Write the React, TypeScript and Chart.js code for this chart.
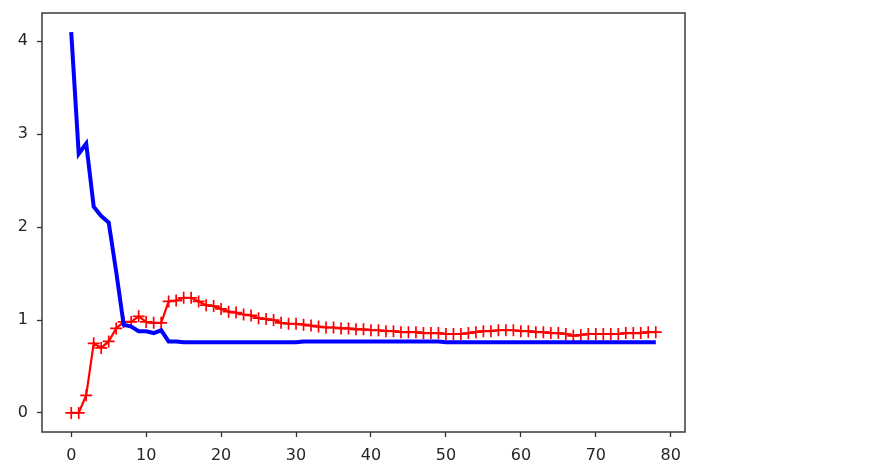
import React, { useEffect, useRef } from "react";
import { Chart, registerables } from "chart.js";

Chart.register(...registerables);

// Training errors (red, "+" markers), one per training-set size 0..78
const trainErrors: number[] = [
  0.0, 0.0, 0.19, 0.75, 0.7, 0.77, 0.91, 0.98, 0.98, 1.04,
  0.98, 0.97, 0.97, 1.2, 1.21, 1.24, 1.24, 1.2, 1.16, 1.15,
  1.12, 1.09, 1.08, 1.06, 1.05, 1.02, 1.01, 1.0, 0.97, 0.96,
  0.96, 0.95, 0.94, 0.93, 0.92, 0.92, 0.91, 0.91, 0.9, 0.9,
  0.89, 0.89, 0.88, 0.88, 0.87, 0.87, 0.87, 0.86, 0.86, 0.86,
  0.85, 0.85, 0.85, 0.86, 0.87, 0.88, 0.88, 0.89, 0.89, 0.89,
  0.88, 0.88, 0.87, 0.87, 0.86, 0.86, 0.85, 0.83, 0.84, 0.85,
  0.85, 0.85, 0.85, 0.85, 0.86, 0.86, 0.86, 0.87, 0.87,
];

// Validation errors (blue line)
const valErrors: number[] = [
  4.1, 2.79, 2.9, 2.22, 2.12, 2.05, 1.52, 0.95, 0.93, 0.88,
  0.88, 0.86, 0.89, 0.77, 0.77, 0.76, 0.76, 0.76, 0.76, 0.76,
  0.76, 0.76, 0.76, 0.76, 0.76, 0.76, 0.76, 0.76, 0.76, 0.76,
  0.76, 0.77, 0.77, 0.77, 0.77, 0.77, 0.77, 0.77, 0.77, 0.77,
  0.77, 0.77, 0.77, 0.77, 0.77, 0.77, 0.77, 0.77, 0.77, 0.77,
  0.76, 0.76, 0.76, 0.76, 0.76, 0.76, 0.76, 0.76, 0.76, 0.76,
  0.76, 0.76, 0.76, 0.76, 0.76, 0.76, 0.76, 0.76, 0.76, 0.76,
  0.76, 0.76, 0.76, 0.76, 0.76, 0.76, 0.76, 0.76, 0.76,
];

const xTicks: number[] = [0, 10, 20, 30, 40, 50, 60, 70, 80];
const yTicks: number[] = [0, 1, 2, 3, 4];

const spinePlugin = {
  id: "spines",
  afterDraw(chart: any) {
    const { ctx, chartArea } = chart;
    ctx.save();
    ctx.strokeStyle = "#3a3a3a";
    ctx.lineWidth = 1.5;
    ctx.strokeRect(
      chartArea.left,
      chartArea.top,
      chartArea.right - chartArea.left,
      chartArea.bottom - chartArea.top
    );
    ctx.restore();
  },
};

export default function App() {
  const ref = useRef<HTMLCanvasElement | null>(null);

  useEffect(() => {
    document.body.style.margin = "0";
    if (!ref.current) return;
    const font = { family: "DejaVu Sans", size: 16 };
    const chart = new Chart(ref.current, {
      type: "line",
      data: {
        datasets: [
          {
            label: "val",
            data: valErrors.map((v, i) => ({ x: i, y: v })),
            borderColor: "#0000ff",
            borderWidth: 4,
            pointRadius: 0,
            tension: 0,
            order: 0,
          },
          {
            label: "train",
            data: trainErrors.map((v, i) => ({ x: i, y: v })),
            borderColor: "#ff0000",
            borderWidth: 2.2,
            pointStyle: "cross",
            pointRadius: 6,
            pointBorderColor: "#ff0000",
            pointBorderWidth: 1.7,
            tension: 0,
            order: 1,
          },
        ],
      },
      options: {
        animation: false,
        responsive: false,
        maintainAspectRatio: false,
        layout: { padding: { left: 0, top: 13, right: 189, bottom: 0 } },
        plugins: { legend: { display: false }, tooltip: { enabled: false } },
        scales: {
          x: {
            type: "linear",
            min: -3.9,
            max: 81.9,
            afterBuildTicks: (s: any) => {
              s.ticks = xTicks.map((v) => ({ value: v }));
            },
            afterFit: (s: any) => {
              s.height = 36;
              s.paddingLeft = 0;
              s.paddingRight = 0;
            },
            grid: {
              drawOnChartArea: false,
              drawTicks: true,
              tickLength: 5,
              tickColor: "#333",
              tickWidth: 1.3,
            },
            border: { display: false },
            ticks: { color: "#262626", font, padding: 9, maxRotation: 0 },
          },
          y: {
            type: "linear",
            min: -0.205,
            max: 4.305,
            afterBuildTicks: (s: any) => {
              s.ticks = yTicks.map((v) => ({ value: v }));
            },
            afterFit: (s: any) => {
              s.width = 42;
              s.paddingTop = 0;
              s.paddingBottom = 0;
            },
            grid: {
              drawOnChartArea: false,
              drawTicks: true,
              tickLength: 5,
              tickColor: "#333",
              tickWidth: 1.3,
            },
            border: { display: false },
            ticks: { color: "#262626", font, padding: 9 },
          },
        },
      },
      plugins: [spinePlugin],
    });
    return () => chart.destroy();
  }, []);

  return (
    <div style={{ width: 874, height: 468, background: "#fff" }}>
      <canvas ref={ref} width={874} height={468} style={{ display: "block" }} />
    </div>
  );
}
